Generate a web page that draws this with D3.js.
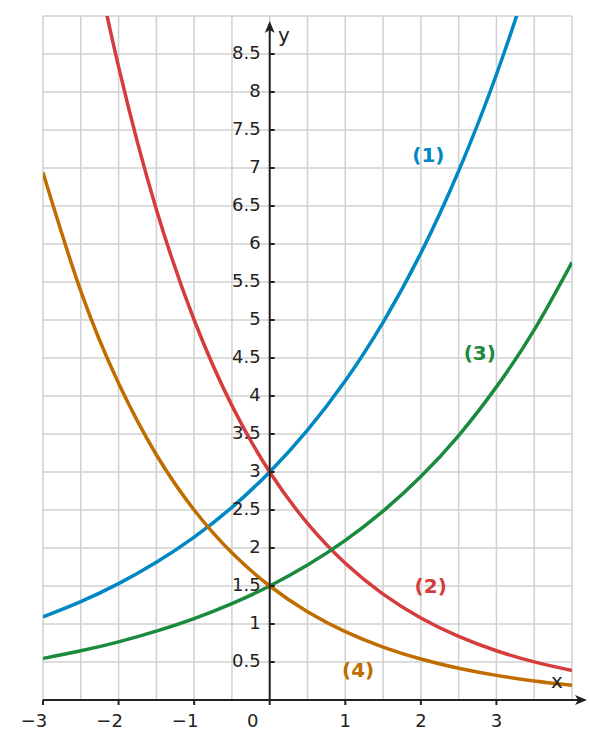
<!DOCTYPE html>
<html><head><meta charset="utf-8">
<script src="https://cdn.jsdelivr.net/npm/d3@7"></script>
<style>body{margin:0;background:#fff}svg{font-family:"DejaVu Sans",sans-serif}</style>
</head><body><svg id="c" width="590" height="749"></svg>
<script>
const xs = [-3,-2.5,-2,-1.5,-1,-0.5,0,0.5,1,1.5,2,2.5,3,3.5,4];
const s1 = [1.093,1.294,1.531,1.811,2.143,2.535,3,3.55,4.2,4.97,5.88,6.96,8.23,9.74,11.5];
const s2 = [13.9,10.76,8.333,6.455,5,3.873,3,2.324,1.8,1.394,1.08,0.837,0.648,0.502,0.389];
const s3 = [0.547,0.647,0.765,0.906,1.071,1.268,1.5,1.775,2.1,2.485,2.94,3.48,4.12,4.87,5.76];
const s4 = [6.94,5.38,4.167,3.227,2.5,1.936,1.5,1.162,0.9,0.697,0.54,0.418,0.324,0.251,0.194];
const labels = ["(1)","(2)","(3)","(4)"];
const labelPos = [[2.1,7.15],[2.13,1.48],[2.78,4.55],[1.17,0.38]];
const colors = ["#0088c2","#d63c3c","#1a8a3c","#c06d00"];
const xTicks = [-3,-2,-1,0,1,2,3];
const yTicks = d3.range(0.5,9,0.5);

const svg = d3.select("#c");
const x = d3.scaleLinear().domain([-3,4]).range([43,572]);
const y = d3.scaleLinear().domain([0,9]).range([700,16]);

const g = svg.append("g");
d3.range(-3,4.01,0.5).forEach(v=>g.append("line").attr("x1",x(v)).attr("x2",x(v)).attr("y1",y(9)).attr("y2",y(0)).attr("stroke","#d0d0d0").attr("stroke-width",1.5));
d3.range(0.5,9.01,0.5).forEach(v=>g.append("line").attr("x1",x(-3)).attr("x2",x(4)).attr("y1",y(v)).attr("y2",y(v)).attr("stroke","#d0d0d0").attr("stroke-width",1.5));

svg.append("clipPath").attr("id","cp").append("rect").attr("x",x(-3)).attr("y",y(9)).attr("width",x(4)-x(-3)).attr("height",y(0)-y(9));
const line = d3.line().x(d=>x(d[0])).y(d=>y(d[1])).curve(d3.curveNatural);
[s1,s2,s3,s4].forEach((s,i)=>{
  svg.append("path").attr("clip-path","url(#cp)").attr("d",line(xs.map((v,j)=>[v,s[j]])))
    .attr("fill","none").attr("stroke",colors[i]).attr("stroke-width",3.5);
  svg.append("text").attr("x",x(labelPos[i][0])).attr("y",y(labelPos[i][1])).attr("text-anchor","middle")
    .attr("dominant-baseline","middle").attr("font-weight","bold").attr("font-size",20).attr("fill",colors[i]).text(labels[i]);
});

// axes
const ax = "#222";
svg.append("line").attr("x1",x(-3)).attr("x2",585).attr("y1",y(0)).attr("y2",y(0)).attr("stroke",ax).attr("stroke-width",2);
svg.append("path").attr("d",`M587,${y(0)} l-12,-5 l3,5 l-3,5z`).attr("fill",ax);
svg.append("line").attr("x1",x(0)).attr("x2",x(0)).attr("y1",y(0)).attr("y2",24).attr("stroke",ax).attr("stroke-width",2);
svg.append("path").attr("d",`M${x(0)},21 l-5,12 l5,-3 l5,3z`).attr("fill",ax);

xTicks.forEach(v=>{
  svg.append("line").attr("x1",x(v)).attr("x2",x(v)).attr("y1",y(0)).attr("y2",y(0)+5).attr("stroke",ax).attr("stroke-width",2);
  svg.append("text").attr("x",v===0?x(0)-17:x(v)-(v<0?9:0)).attr("y",727).attr("text-anchor","middle").attr("font-size",18).attr("fill",ax)
    .text(v<0?"\u2212"+(-v):String(v));
});
yTicks.forEach(v=>{
  svg.append("line").attr("x1",x(0)).attr("x2",x(0)+5).attr("y1",y(v)).attr("y2",y(v)).attr("stroke",ax).attr("stroke-width",2);
  svg.append("text").attr("x",x(0)-9).attr("y",y(v)).attr("text-anchor","end").attr("dominant-baseline","middle").attr("font-size",18).attr("fill",ax).text(String(v));
});
svg.append("text").attr("x",557).attr("y",688).attr("text-anchor","middle").attr("font-size",20).attr("fill",ax).text("x");
svg.append("text").attr("x",284).attr("y",42).attr("text-anchor","middle").attr("font-size",20).attr("fill",ax).text("y");
</script></body></html>
